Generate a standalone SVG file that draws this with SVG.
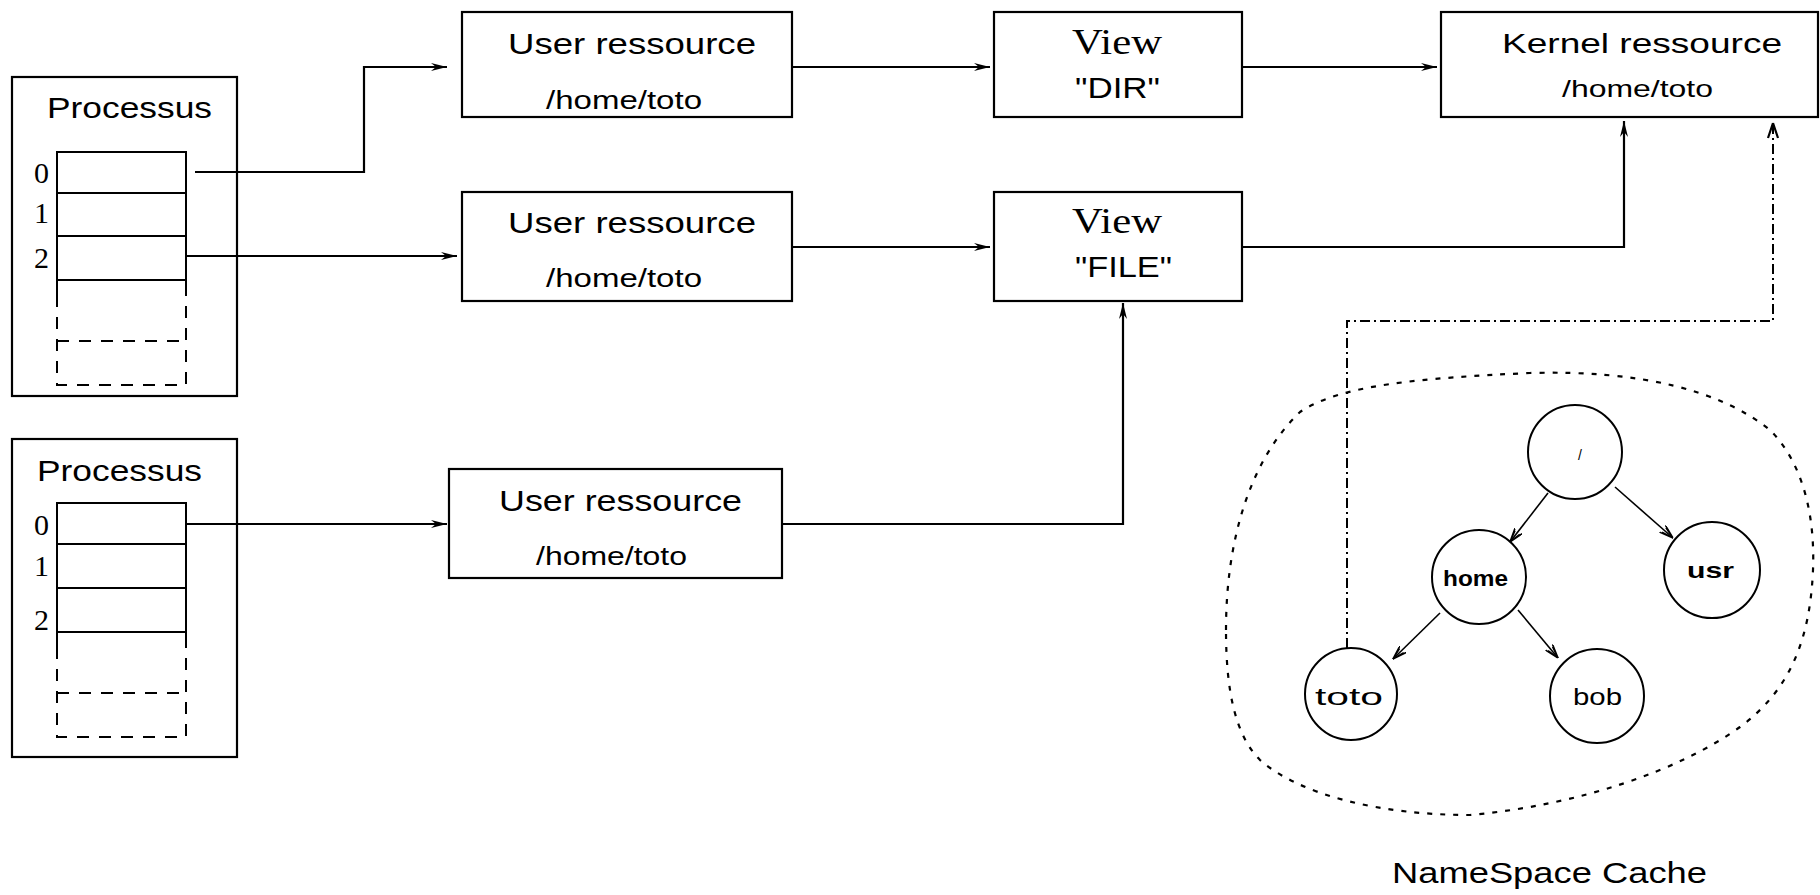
<svg xmlns="http://www.w3.org/2000/svg" width="1820" height="895" viewBox="0 0 1820 895">
<defs>
<style>
.box{fill:#fff;stroke:#000;stroke-width:2.2}
.cell{fill:none;stroke:#000;stroke-width:2}
.dash{fill:none;stroke:#000;stroke-width:2;stroke-dasharray:12 10}
.t{font-family:"Liberation Sans",Arial,sans-serif;fill:#000}
.s{font-family:"Liberation Serif","Times New Roman",serif;fill:#000}
.c{fill:none;stroke:#000;stroke-width:2}
.con{fill:none;stroke:#000;stroke-width:2.2}
.dd{fill:none;stroke:#000;stroke-width:2;stroke-dasharray:10 4 2 4}
.tree{fill:none;stroke:#000;stroke-width:1.6}
.cloud{fill:none;stroke:#000;stroke-width:2.2;stroke-dasharray:5 8}
</style>
<marker id="ah" viewBox="0 0 16 10" refX="16" refY="5" markerWidth="16" markerHeight="10" markerUnits="userSpaceOnUse" orient="auto">
<path d="M0,1 L16,5 L0,9 L5,5 Z" fill="#000"/>
</marker>
<marker id="ahs" viewBox="0 0 14 10" refX="14" refY="5" markerWidth="14" markerHeight="10" markerUnits="userSpaceOnUse" orient="auto">
<path d="M0,0.5 L14,5 L0,9.5 M2,2 L14,5 L2,8" fill="none" stroke="#000" stroke-width="1.6"/>
</marker>
</defs>
<rect width="1820" height="895" fill="#fff"/>

<g id="processus1">
<rect class="box" x="12" y="77" width="225" height="319"/>
<text class="t" x="47" y="118" font-size="29" textLength="165" lengthAdjust="spacingAndGlyphs">Processus</text>
<path class="cell" d="M57,295 V152 H186 V295 M57,193 H186 M57,236 H186 M57,280 H186"/>
<path class="dash" d="M57,295 V385 H186 V295 M57,341 H186"/>
<text class="s" x="34" y="183" font-size="30">0</text>
<text class="s" x="34" y="223" font-size="30">1</text>
<text class="s" x="34" y="268" font-size="30">2</text>
</g>

<g id="processus2">
<rect class="box" x="12" y="439" width="225" height="318"/>
<text class="t" x="37" y="481" font-size="29" textLength="165" lengthAdjust="spacingAndGlyphs">Processus</text>
<path class="cell" d="M57,647 V503 H186 V647 M57,544 H186 M57,588 H186 M57,632 H186"/>
<path class="dash" d="M57,647 V737 H186 V647 M57,693 H186"/>
<text class="s" x="34" y="535" font-size="30">0</text>
<text class="s" x="34" y="576" font-size="30">1</text>
<text class="s" x="34" y="630" font-size="30">2</text>
</g>

<g id="user1">
<rect class="box" x="462" y="12" width="330" height="105"/>
<text class="t" x="508" y="54" font-size="30" textLength="248" lengthAdjust="spacingAndGlyphs">User ressource</text>
<text class="t" x="546" y="109" font-size="26" textLength="156" lengthAdjust="spacingAndGlyphs">/home/toto</text>
</g>

<g id="user2">
<rect class="box" x="462" y="192" width="330" height="109"/>
<text class="t" x="508" y="233" font-size="30" textLength="248" lengthAdjust="spacingAndGlyphs">User ressource</text>
<text class="t" x="546" y="287" font-size="26" textLength="156" lengthAdjust="spacingAndGlyphs">/home/toto</text>
</g>

<g id="user3">
<rect class="box" x="449" y="469" width="333" height="109"/>
<text class="t" x="499" y="511" font-size="30" textLength="243" lengthAdjust="spacingAndGlyphs">User ressource</text>
<text class="t" x="536" y="565" font-size="26" textLength="151" lengthAdjust="spacingAndGlyphs">/home/toto</text>
</g>

<g id="viewdir">
<rect class="box" x="994" y="12" width="248" height="105"/>
<text class="s" x="1072" y="54" font-size="36" textLength="90" lengthAdjust="spacingAndGlyphs">View</text>
<text class="t" x="1075" y="98" font-size="30" textLength="85" lengthAdjust="spacingAndGlyphs">"DIR"</text>
</g>

<g id="viewfile">
<rect class="box" x="994" y="192" width="248" height="109"/>
<text class="s" x="1072" y="233" font-size="36" textLength="90" lengthAdjust="spacingAndGlyphs">View</text>
<text class="t" x="1075" y="277" font-size="30" textLength="97" lengthAdjust="spacingAndGlyphs">"FILE"</text>
</g>

<g id="kernel">
<rect class="box" x="1441" y="12" width="377" height="105"/>
<text class="t" x="1502" y="53" font-size="28" textLength="280" lengthAdjust="spacingAndGlyphs">Kernel ressource</text>
<text class="t" x="1562" y="97" font-size="24" textLength="151" lengthAdjust="spacingAndGlyphs">/home/toto</text>
</g>

<g id="namespace-cache">
<path class="cloud" d="M1226,630 C1226,540 1250,460 1300,412 C1340,385 1420,378 1530,373 C1640,370 1720,390 1770,430 C1805,465 1815,520 1813,570 C1810,640 1790,690 1740,727 C1680,770 1580,805 1470,815 C1380,815 1300,795 1260,760 C1235,735 1226,690 1226,630 Z"/>
<text class="t" x="1392" y="883" font-size="29" textLength="315" lengthAdjust="spacingAndGlyphs">NameSpace Cache</text>
</g>

<g id="root">
<circle class="c" cx="1575" cy="452" r="47"/>
<text class="t" x="1580" y="460" font-size="14" text-anchor="middle">/</text>
</g>
<g id="home">
<circle class="c" cx="1479" cy="577" r="47"/>
<text class="t" x="1443" y="586" font-size="22" font-weight="bold" textLength="65" lengthAdjust="spacingAndGlyphs">home</text>
</g>
<g id="usr">
<circle class="c" cx="1712" cy="570" r="48"/>
<text class="t" x="1687" y="578" font-size="22" font-weight="bold" textLength="47" lengthAdjust="spacingAndGlyphs">usr</text>
</g>
<g id="toto">
<circle class="c" cx="1351" cy="694" r="46"/>
<text class="t" x="1315" y="705" font-size="24" textLength="68" lengthAdjust="spacingAndGlyphs">toto</text>
</g>
<g id="bob">
<circle class="c" cx="1597" cy="696" r="47"/>
<text class="t" x="1573" y="705" font-size="24" textLength="49" lengthAdjust="spacingAndGlyphs">bob</text>
</g>

<g id="connectors">
<path class="con" d="M195,172 H364 V67 H447" marker-end="url(#ah)"/>
<path class="con" d="M187,256 H457" marker-end="url(#ah)"/>
<path class="con" d="M187,524 H447" marker-end="url(#ah)"/>
<path class="con" d="M792,67 H990" marker-end="url(#ah)"/>
<path class="con" d="M792,247 H990" marker-end="url(#ah)"/>
<path class="con" d="M782,524 H1123 V303" marker-end="url(#ah)"/>
<path class="con" d="M1242,67 H1437" marker-end="url(#ah)"/>
<path class="con" d="M1242,247 H1624 V121" marker-end="url(#ah)"/>
<path class="dd" d="M1347,648 V321 H1773 V123"/>
<path d="M1773,123 L1768,138 M1773,123 L1778,138" stroke="#000" stroke-width="2.2" fill="none"/>
<path class="tree" d="M1548,493 L1510,542" marker-end="url(#ahs)"/>
<path class="tree" d="M1615,487 L1673,538" marker-end="url(#ahs)"/>
<path class="tree" d="M1440,613 L1393,659" marker-end="url(#ahs)"/>
<path class="tree" d="M1518,610 L1558,658" marker-end="url(#ahs)"/>
</g>
</svg>
